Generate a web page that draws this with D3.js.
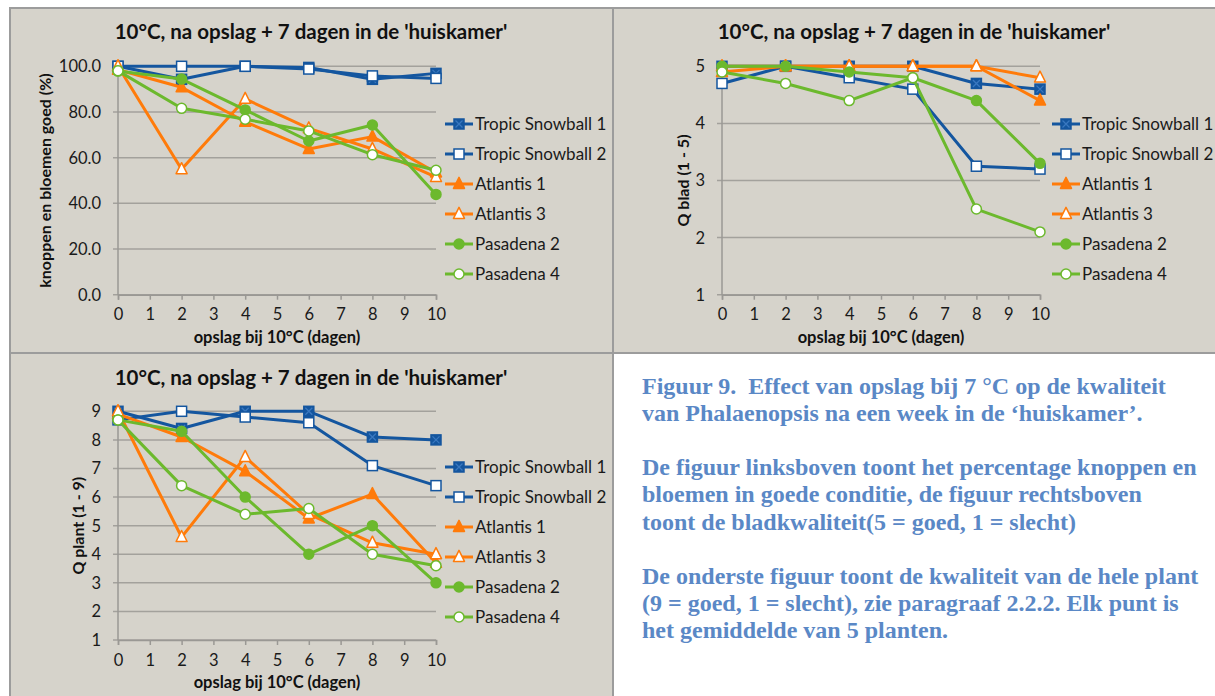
<!DOCTYPE html>
<html>
<head>
<meta charset="utf-8">
<script src="https://cdn.jsdelivr.net/npm/d3@7/dist/d3.min.js"></script>
<style>
  body { margin: 0; background: #fff; }
  svg { display: block; }
</style>
</head>
<body>
<div id="chart"></div>
<script>
// opslag dagen (x-as) en rassen
var days = [0, 2, 4, 6, 8, 10];
var seriesNames = ['Tropic Snowball 1', 'Tropic Snowball 2', 'Atlantis 1', 'Atlantis 3', 'Pasadena 2', 'Pasadena 4'];

// knoppen en bloemen goed (%), per ras
var knoppenValues = [
  [100, 94.3, 100, 99.5, 94.3, 96.9],
  [100, 100, 100, 98.8, 95.8, 94.7],
  [98.5, 90.8, 75.7, 63.8, 69.2, 53.5],
  [100, 54.9, 85.7, 72.8, 63.8, 51.5],
  [97.9, 94.4, 80.9, 67.3, 74.3, 43.9],
  [98, 81.6, 76.8, 71.7, 61.3, 54.5]
];

// Q blad (1 - 5)
var bladValues = [
  [5, 5, 5, 5, 4.7, 4.6],
  [4.7, 5, 4.8, 4.6, 3.25, 3.2],
  [4.9, 5, 5, 5, 5, 4.4],
  [5, 5, 5, 5, 5, 4.8],
  [5, 5, 4.9, 4.8, 4.4, 3.3],
  [4.9, 4.7, 4.4, 4.8, 2.5, 2.1]
];

// Q plant (1 - 9)
var plantValues = [
  [9, 8.4, 9, 9, 8.1, 8],
  [8.7, 9, 8.8, 8.6, 7.1, 6.4],
  [8.9, 8.1, 6.9, 5.25, 6.1, 3.7],
  [9, 4.6, 7.4, 5.4, 4.4, 4],
  [8.7, 8.3, 6, 4, 5, 3],
  [8.7, 6.4, 5.4, 5.6, 4, 3.6]
];

var xTicks = [0, 1, 2, 3, 4, 5, 6, 7, 8, 9, 10];
var knoppenTicks = [0, 20, 40, 60, 80, 100];
var bladTicks = [1, 2, 3, 4, 5];
var plantTicks = [1, 2, 3, 4, 5, 6, 7, 8, 9];

var chartTitle = "10°C, na opslag + 7 dagen in de 'huiskamer'";
var xTitle = 'opslag bij 10°C (dagen)';

var captionLines = [
  'Figuur 9.  Effect van opslag bij 7 °C op de kwaliteit',
  'van Phalaenopsis na een week in de \u2018huiskamer\u2019.',
  '',
  'De figuur linksboven toont het percentage knoppen en',
  'bloemen in goede conditie, de figuur rechtsboven',
  'toont de bladkwaliteit(5 = goed, 1 = slecht)',
  '',
  'De onderste figuur toont de kwaliteit van de hele plant',
  '(9 = goed, 1 = slecht), zie paragraaf 2.2.2. Elk punt is',
  'het gemiddelde van 5 planten.'
];

// stijl per ras
var blue = '#14569f', orange = '#ff7b0a', green = '#6cb92d';
var styles = [
  { color: blue, shape: 'square', fill: blue, cross: true },
  { color: blue, shape: 'square', fill: '#fff' },
  { color: orange, shape: 'triangle', fill: orange },
  { color: orange, shape: 'triangle', fill: '#fff' },
  { color: green, shape: 'circle', fill: green },
  { color: green, shape: 'circle', fill: '#fff' }
];

var W = 1215, H = 696;
var bg = '#d6d3cb';
var sansFont = 'Lato, "Open Sans", sans-serif';

var svg = d3.select('#chart')
  .append('svg')
    .attr('width', W)
    .attr('height', H);

// panelen
var panels = [
  { x: 10, y: 8, w: 603, h: 345 },
  { x: 613, y: 8, w: 610, h: 345 },
  { x: 10, y: 353, w: 603, h: 350 }
];
svg.selectAll('.panel').data(panels).enter().append('rect')
  .attr('class', 'panel')
  .attr('x', function(d){ return d.x })
  .attr('y', function(d){ return d.y })
  .attr('width', function(d){ return d.w })
  .attr('height', function(d){ return d.h })
  .attr('fill', bg)
  .attr('stroke', '#9c9c9c')
  .attr('stroke-width', 2);

var charts = [
  { values: knoppenValues, ticks: knoppenTicks, domain: [0, 100], fmt: d3.format('.1f'),
    yTitle: 'knoppen en bloemen goed (%)', left: 118, top: 66.3, bottom: 294.7,
    yTitleX: 45, titleX: 311, titleY: 39, legendX: 445, legendY: 124 },
  { values: bladValues, ticks: bladTicks, domain: [1, 5], fmt: d3.format('d'),
    yTitle: 'Q blad (1 - 5)', left: 722, top: 66.3, bottom: 294.7,
    yTitleX: 683, titleX: 914, titleY: 39, legendX: 1052, legendY: 124 },
  { values: plantValues, ticks: plantTicks, domain: [1, 9], fmt: d3.format('d'),
    yTitle: 'Q plant (1 - 9)', left: 118, top: 411.3, bottom: 640,
    yTitleX: 78, titleX: 311, titleY: 385, legendX: 445, legendY: 467 }
];

var plotWidth = 318;

var drawMarker = function(g, st, size){
  if (st.shape === 'square') {
    g.append('rect')
      .attr('x', -size / 2).attr('y', -size / 2)
      .attr('width', size).attr('height', size)
      .attr('fill', st.fill)
      .attr('stroke', st.color)
      .attr('stroke-width', 1.5);
    if (st.cross) {
      var c = size / 2 - 1.5;
      g.append('path')
        .attr('d', 'M' + (-c) + ',' + (-c) + 'L' + c + ',' + c + 'M' + (-c) + ',' + c + 'L' + c + ',' + (-c))
        .attr('stroke', '#3a78c0')
        .attr('stroke-width', 1.3);
    }
  } else if (st.shape === 'triangle') {
    var s = size * 1.1;
    g.append('path')
      .attr('d', 'M0,' + (-s * 0.6) + 'L' + (s / 2) + ',' + (s * 0.4) + 'L' + (-s / 2) + ',' + (s * 0.4) + 'Z')
      .attr('fill', st.fill)
      .attr('stroke', st.color)
      .attr('stroke-width', 1.5)
      .attr('stroke-linejoin', 'round');
  } else {
    g.append('circle')
      .attr('r', size / 2)
      .attr('fill', st.fill)
      .attr('stroke', st.color)
      .attr('stroke-width', 1.5);
  }
};

charts.forEach(function(ch){
  var x = d3.scaleLinear().domain([0, 10]).range([ch.left, ch.left + plotWidth]);
  var y = d3.scaleLinear().domain(ch.domain).range([ch.bottom, ch.top]);
  var g = svg.append('g');

  // rasterlijnen
  g.selectAll('.grid').data(ch.ticks).enter().append('line')
    .attr('x1', ch.left - 5)
    .attr('x2', ch.left + plotWidth)
    .attr('y1', function(d){ return y(d) })
    .attr('y2', function(d){ return y(d) })
    .attr('stroke', '#a3a19c')
    .attr('stroke-width', 1.5);

  // y-as
  g.append('line')
    .attr('x1', ch.left).attr('x2', ch.left)
    .attr('y1', ch.top).attr('y2', ch.bottom)
    .attr('stroke', '#9a9894')
    .attr('stroke-width', 1.5);

  // x-as met tickstreepjes
  var xAxis = g.append('g')
    .attr('transform', 'translate(0,' + ch.bottom + ')')
    .call(d3.axisBottom(x).tickValues(xTicks).tickSize(5).tickPadding(9).tickFormat(d3.format('d')));
  xAxis.select('.domain').attr('stroke', '#9a9894').attr('stroke-width', 1.5);
  xAxis.selectAll('.tick line').attr('stroke', '#9a9894').attr('stroke-width', 1.5);
  xAxis.selectAll('text')
    .attr('font-family', sansFont)
    .attr('font-size', 16.5)
    .attr('fill', '#1a1a1a');

  // y-as labels
  g.selectAll('.ylab').data(ch.ticks).enter().append('text')
    .attr('x', ch.left - 17)
    .attr('y', function(d){ return y(d) })
    .attr('dy', '0.36em')
    .attr('text-anchor', 'end')
    .attr('font-family', sansFont)
    .attr('font-size', 16.5)
    .attr('fill', '#1a1a1a')
    .text(function(d){ return ch.fmt(d) });

  // titels
  g.append('text')
    .attr('x', ch.titleX)
    .attr('y', ch.titleY)
    .attr('text-anchor', 'middle')
    .attr('font-family', sansFont)
    .attr('font-weight', 'bold')
    .attr('font-size', 20.5)
    .attr('fill', '#111')
    .text(chartTitle);

  g.append('text')
    .attr('x', ch.left + plotWidth / 2)
    .attr('y', ch.bottom + 48)
    .attr('text-anchor', 'middle')
    .attr('font-family', sansFont)
    .attr('font-weight', 'bold')
    .attr('font-size', 16.5)
    .attr('fill', '#111')
    .text(xTitle);

  g.append('text')
    .attr('transform', 'translate(' + ch.yTitleX + ',' + ((ch.top + ch.bottom) / 2) + ') rotate(-90)')
    .attr('dy', '0.35em')
    .attr('text-anchor', 'middle')
    .attr('font-family', sansFont)
    .attr('font-weight', 'bold')
    .attr('font-size', 16)
    .attr('fill', '#111')
    .text(ch.yTitle);

  // lijnen en markers per ras
  var line = d3.line()
    .x(function(d, i){ return x(days[i]) })
    .y(function(d){ return y(d) });

  ch.values.forEach(function(vals, si){
    var st = styles[si];
    var sg = g.append('g');
    sg.append('path')
      .attr('d', line(vals))
      .attr('fill', 'none')
      .attr('stroke', st.color)
      .attr('stroke-width', 3)
      .attr('stroke-linejoin', 'round');
    vals.forEach(function(v, i){
      var mg = sg.append('g').attr('transform', 'translate(' + x(days[i]) + ',' + y(v) + ')');
      drawMarker(mg, st, 10);
    });
  });

  // legenda
  seriesNames.forEach(function(name, si){
    var ly = ch.legendY + si * 30;
    var lg = g.append('g');
    lg.append('line')
      .attr('x1', ch.legendX).attr('x2', ch.legendX + 28)
      .attr('y1', ly).attr('y2', ly)
      .attr('stroke', styles[si].color)
      .attr('stroke-width', 3);
    drawMarker(lg.append('g').attr('transform', 'translate(' + (ch.legendX + 14) + ',' + ly + ')'), styles[si], 10);
    lg.append('text')
      .attr('x', ch.legendX + 30)
      .attr('y', ly)
      .attr('dy', '0.36em')
      .attr('font-family', sansFont)
      .attr('font-size', 17)
      .attr('fill', '#1a1a1a')
      .text(name);
  });
});

// bijschrift rechtsonder
svg.selectAll('.caption').data(captionLines).enter().append('text')
  .attr('class', 'caption')
  .attr('x', 642)
  .attr('y', function(d, i){ return 394 + i * 27.1 })
  .attr('font-family', '"Liberation Serif", "DejaVu Serif", serif')
  .attr('font-weight', 'bold')
  .attr('font-size', 24)
  .attr('fill', '#5a88c6')
  .attr('xml:space', 'preserve')
  .text(function(d){ return d });
</script>
</body>
</html>
